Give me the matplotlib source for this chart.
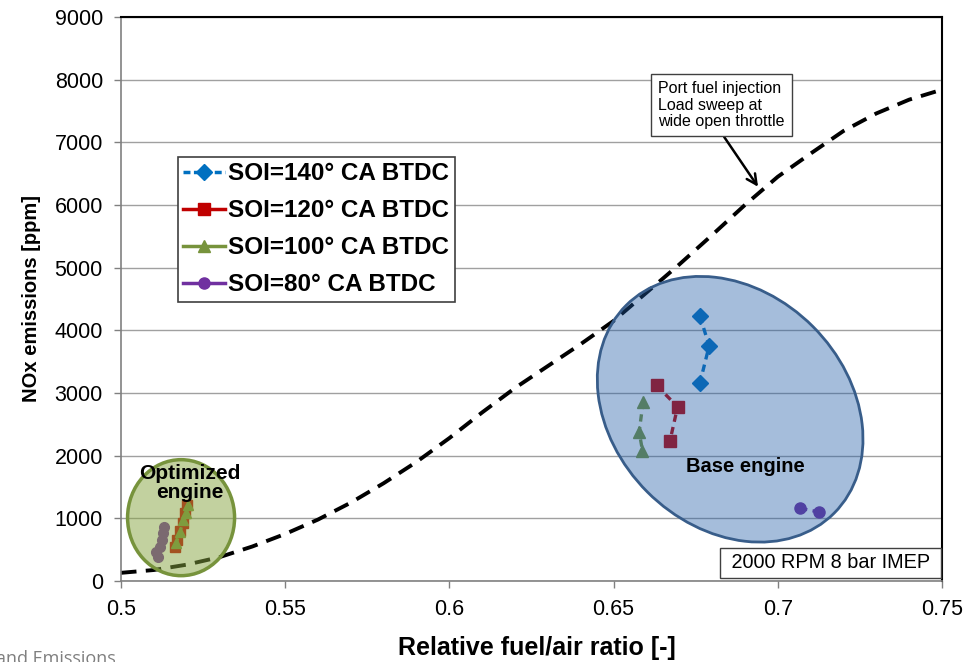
import numpy as np
import matplotlib
matplotlib.use('Agg')
import matplotlib.pyplot as plt
from matplotlib.lines import Line2D
from matplotlib.patches import Ellipse
from matplotlib.transforms import ScaledTranslation

plt.rcParams['font.family'] = ['Liberation Sans', 'DejaVu Sans']

# port fuel injection load sweep (dashed curve)
pfi_ratio = [0.50, 0.51, 0.52, 0.53, 0.54, 0.55, 0.56, 0.57, 0.58, 0.59, 0.60, 0.61, 0.62,
             0.63, 0.64, 0.65, 0.66, 0.67, 0.68, 0.69, 0.70, 0.71, 0.72, 0.73, 0.74, 0.75]
pfi_nox = [130, 175, 260, 380, 550, 750, 980, 1250, 1560, 1900, 2280, 2690, 3080,
           3430, 3780, 4150, 4600, 5050, 5520, 6000, 6450, 6820, 7180, 7460, 7680, 7840]

# base engine points
soi140_base_ratio = [0.6763, 0.6791, 0.6763]
soi140_base_nox = [4230, 3750, 3160]
soi120_base_ratio = [0.6631, 0.6695, 0.6672]
soi120_base_nox = [3120, 2780, 2240]
soi100_base_ratio = [0.6590, 0.6578, 0.6588]
soi100_base_nox = [2860, 2380, 2080]
soi80_base_ratio = [0.7068, 0.7126]
soi80_base_nox = [1160, 1100]

# optimized engine points
soi120_opt_ratio = [0.5200, 0.5195, 0.5188, 0.5180, 0.5170, 0.5164]
soi120_opt_nox = [1210, 1080, 920, 790, 650, 540]
soi100_opt_ratio = [0.5205, 0.5197, 0.5190, 0.5180, 0.5168]
soi100_opt_nox = [1210, 1090, 970, 780, 600]
soi80_opt_ratio = [0.5130, 0.5128, 0.5125, 0.5118, 0.5108, 0.5114]
soi80_opt_nox = [866, 760, 650, 548, 468, 380]

legend_labels = ['SOI=140° CA BTDC', 'SOI=120° CA BTDC', 'SOI=100° CA BTDC', 'SOI=80° CA BTDC']
x_ticks = [0.5, 0.55, 0.6, 0.65, 0.7, 0.75]
x_tick_labels = ['0.5', '0.55', '0.6', '0.65', '0.7', '0.75']
y_ticks = [0, 1000, 2000, 3000, 4000, 5000, 6000, 7000, 8000, 9000]

BLUE = '#0070c0'
RED = '#c00000'
GREEN = '#77933c'
PURPLE = '#7030a0'

fig = plt.figure(figsize=(9.67, 6.62), dpi=100)
ax = fig.add_axes([0.1251, 0.1224, 0.8490, 0.8520])

dash = (0, (2.2, 1.6))
ax.plot(pfi_ratio, pfi_nox, color='black', lw=2.8, linestyle=(0, (4, 2.4)), zorder=2)

ax.plot(soi140_base_ratio, soi140_base_nox, color=BLUE, lw=2.4, ls=dash, marker='D', ms=8, zorder=3)
ax.plot(soi120_base_ratio, soi120_base_nox, color=RED, lw=2.4, ls=dash, marker='s', ms=8, zorder=3)
ax.plot(soi100_base_ratio, soi100_base_nox, color=GREEN, lw=2.4, ls=dash, marker='^', ms=8, zorder=3)
ax.plot(soi80_base_ratio, soi80_base_nox, color=PURPLE, lw=2.4, ls=dash, marker='o', ms=8, zorder=3)

ax.plot(soi80_opt_ratio, soi80_opt_nox, color=PURPLE, lw=2.2, ls=dash, marker='o', ms=7, zorder=3)
ax.plot(soi120_opt_ratio, soi120_opt_nox, color=RED, lw=2.2, ls=dash, marker='s', ms=6.5, zorder=3)
ax.plot(soi100_opt_ratio, soi100_opt_nox, color=GREEN, lw=2.2, ls=dash, marker='^', ms=7, zorder=3)

ax.set_xlim(0.5, 0.75)
ax.set_ylim(0, 9000)

# highlight ellipses drawn on top of the points, semi transparent
tr = fig.dpi_scale_trans + ScaledTranslation(0.6855, 2740, ax.transData)
ax.add_patch(Ellipse((0, 0), width=2.94, height=2.34, angle=-45, transform=tr,
                     facecolor=(32/255, 92/255, 167/255, 0.4), edgecolor='#385d8a', lw=2, zorder=4))
tr2 = fig.dpi_scale_trans + ScaledTranslation(0.5183, 1010, ax.transData)
ax.add_patch(Ellipse((0, 0), width=1.07, height=1.16, transform=tr2,
                     facecolor=(135/255, 165/255, 65/255, 0.5), edgecolor='#77933c', lw=2.5, zorder=4))

ax.text(0.690, 1820, 'Base engine', fontsize=14.5, fontweight='bold', ha='center', va='center', zorder=6)
ax.text(0.5210, 1560, 'Optimized\nengine', fontsize=15, fontweight='bold', ha='center', va='center',
        linespacing=1.0, zorder=6)

ax.annotate('Port fuel injection\nLoad sweep at\nwide open throttle', xy=(0.694, 6290), xytext=(0.6636, 7590),
            fontsize=11.5, ha='left', va='center', linespacing=1.12, zorder=6,
            bbox=dict(boxstyle='square,pad=0.45', fc='white', ec='#404040', lw=1),
            arrowprops=dict(arrowstyle='->', color='black', lw=1.8, shrinkA=0, shrinkB=0,
                            relpos=(0.48, 0.0), mutation_scale=18))

ax.text(0.7479, 287, ' 2000 RPM 8 bar IMEP ', fontsize=14.3, ha='right', va='center', zorder=6,
        bbox=dict(boxstyle='square,pad=0.28', fc='white', ec='#404040', lw=1))

handles = [
    Line2D([], [], color=BLUE, lw=2.5, ls=(0, (2, 1)), marker='D', ms=8),
    Line2D([], [], color=RED, lw=2.5, marker='s', ms=8),
    Line2D([], [], color=GREEN, lw=2.5, marker='^', ms=8),
    Line2D([], [], color=PURPLE, lw=2.5, marker='o', ms=8),
]
leg = ax.legend(handles, legend_labels, loc='upper left', bbox_to_anchor=(0.0694, 0.752),
                borderaxespad=0, fancybox=False, framealpha=1, edgecolor='#404040',
                prop={'weight': 'bold', 'size': 17.5}, handlelength=1.7, handletextpad=0.15,
                labelspacing=0.58, borderpad=0.22)
leg.set_zorder(7)
leg.get_frame().set_linewidth(1.2)

ax.set_xticks(x_ticks)
ax.set_xticklabels(x_tick_labels)
ax.set_yticks(y_ticks)
ax.tick_params(axis='both', labelsize=15.5, direction='out', length=5, width=1, color='#808080', pad=8)
ax.yaxis.grid(True, color='#a0a0a0', lw=1)
ax.set_axisbelow(True)
for side in ['top', 'right']:
    ax.spines[side].set_color('black')
    ax.spines[side].set_linewidth(1.5)
for side in ['left', 'bottom']:
    ax.spines[side].set_color('#808080')
    ax.spines[side].set_linewidth(1.2)

ax.set_xlabel('Relative fuel/air ratio [-]', fontsize=18, fontweight='bold')
ax.xaxis.set_label_coords(0.507, -0.098)
ax.set_ylabel('NOx emissions [ppm]', fontsize=14.5, fontweight='bold', labelpad=10)

fig.text(-0.004, 0.0185, 'and Emissions', fontsize=13, color='#7f7f7f', family='Open Sans', va='top')

fig.savefig('out.png', dpi=100)
